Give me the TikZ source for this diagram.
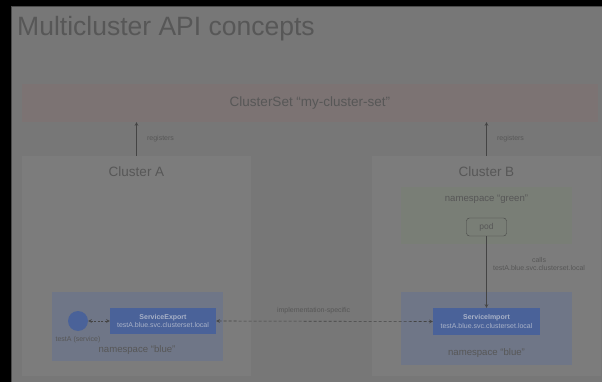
\documentclass[tikz,border=0pt]{standalone}
\usepackage{fontspec}
\setmainfont{Liberation Sans}
\usepackage{xcolor}
\usetikzlibrary{arrows, positioning}
\definecolor{slidegray}{HTML}{777777}
\definecolor{slideedge}{HTML}{4A4A4A}
\definecolor{clustergray}{HTML}{7C7C7C}
\definecolor{setpink}{HTML}{7C7373}
\definecolor{nsgreen}{HTML}{797E76}
\definecolor{nsblue}{HTML}{6F7687}
\definecolor{svcblue}{HTML}{4A6299}
\definecolor{inktext}{HTML}{575757}
\definecolor{boxtext}{HTML}{A9B2C8}
\definecolor{arrowgray}{HTML}{444444}

\begin{document}
\begin{tikzpicture}[
    x=1pt, y=-1pt,
    box/.style={rectangle, inner sep=0pt},
    cluster/.style={box, fill=clustergray, minimum width=229pt, minimum height=220pt},
    nsbox/.style={box, minimum width=171pt},
    svcbox/.style={box, fill=svcblue, minimum width=107pt, minimum height=27pt, align=center, text=boxtext, font=\fontsize{7}{8.5}\selectfont},
    heading/.style={text=inktext, font=\fontsize{13.5}{16}\selectfont},
    nslabel/.style={text=inktext, font=\fontsize{9.6}{12}\selectfont},
    lbl/.style={text=inktext, align=center, font=\fontsize{7}{8.5}\selectfont},
    arrow/.style={->, >=stealth, draw=arrowgray, semithick}
]

% Page
\useasboundingbox (0,0) rectangle (602,382);
\fill[black] (0,0) rectangle (602,382);
\node[box, fill=slidegray, draw=slideedge, minimum width=593pt, minimum height=377pt, anchor=north west] (slide) at (10.5,6.5) {};
\node[anchor=base west, inner sep=0pt, text=inktext, font=\fontsize{26.5}{30}\selectfont] (title) at (17,36) {Multicluster API concepts};

% ClusterSet
\node[box, fill=setpink, minimum width=576pt, minimum height=38pt, heading] (cset) at (310,103) {ClusterSet “my-cluster-set”};

% Cluster A
\node[cluster] (clA) at (136.5,266) {};
\node[heading] (clAname) at (136.5,172) {Cluster A};
\node[nsbox, fill=nsblue, minimum height=69pt] (blueA) at (137,326.5) {};
\node[nslabel] (blueAname) at (137,350) {namespace “blue”};
\node[circle, fill=svcblue, minimum size=20pt, inner sep=0pt] (svcA) at (78,321) {};
\node[lbl] (svcAname) at (78,340) {testA (service)};
\node[svcbox, minimum width=106pt, minimum height=26pt] (sexport) at (163,321) {\textbf{ServiceExport}\\testA.blue.svc.clusterset.local};

% Cluster B
\node[cluster] (clB) at (486.5,266) {};
\node[heading] (clBname) at (486.5,172) {Cluster B};
\node[nsbox, fill=nsgreen, minimum height=57pt] (greenB) at (486.5,215.5) {};
\node[nslabel] (greenBname) at (486.5,199) {namespace “green”};
\node[box, draw=arrowgray, fill=nsgreen, rounded corners=3pt, minimum width=40pt, minimum height=18pt, nslabel, font=\fontsize{8.5}{10}\selectfont] (pod) at (486.5,227) {pod};
\node[nsbox, fill=nsblue, minimum height=73pt] (blueB) at (486.5,328.5) {};
\node[nslabel] (blueBname) at (486.5,353) {namespace “blue”};
\node[svcbox] (simport) at (486.5,321.5) {\textbf{ServiceImport}\\testA.blue.svc.clusterset.local};

% Connections
\draw[arrow] (clA.north) -- (clA.north |- cset.south) node[midway, right=7pt, lbl] {registers};
\draw[arrow] (clB.north) -- (clB.north |- cset.south) node[midway, right=7pt, lbl] {registers};
\draw[arrow] (pod.south) -- (simport.north) node[pos=0.39, right=3pt, lbl] {calls\\testA.blue.svc.clusterset.local};
\draw[arrow, <->, dash pattern=on 2pt off 1.5pt] (svcA.east) -- (sexport.west);
\draw[arrow, <->, dash pattern=on 3pt off 2pt] (sexport.east) -- (simport.west) node[pos=0.45, above=4pt, lbl] {implementation-specific};

\end{tikzpicture}
\end{document}
